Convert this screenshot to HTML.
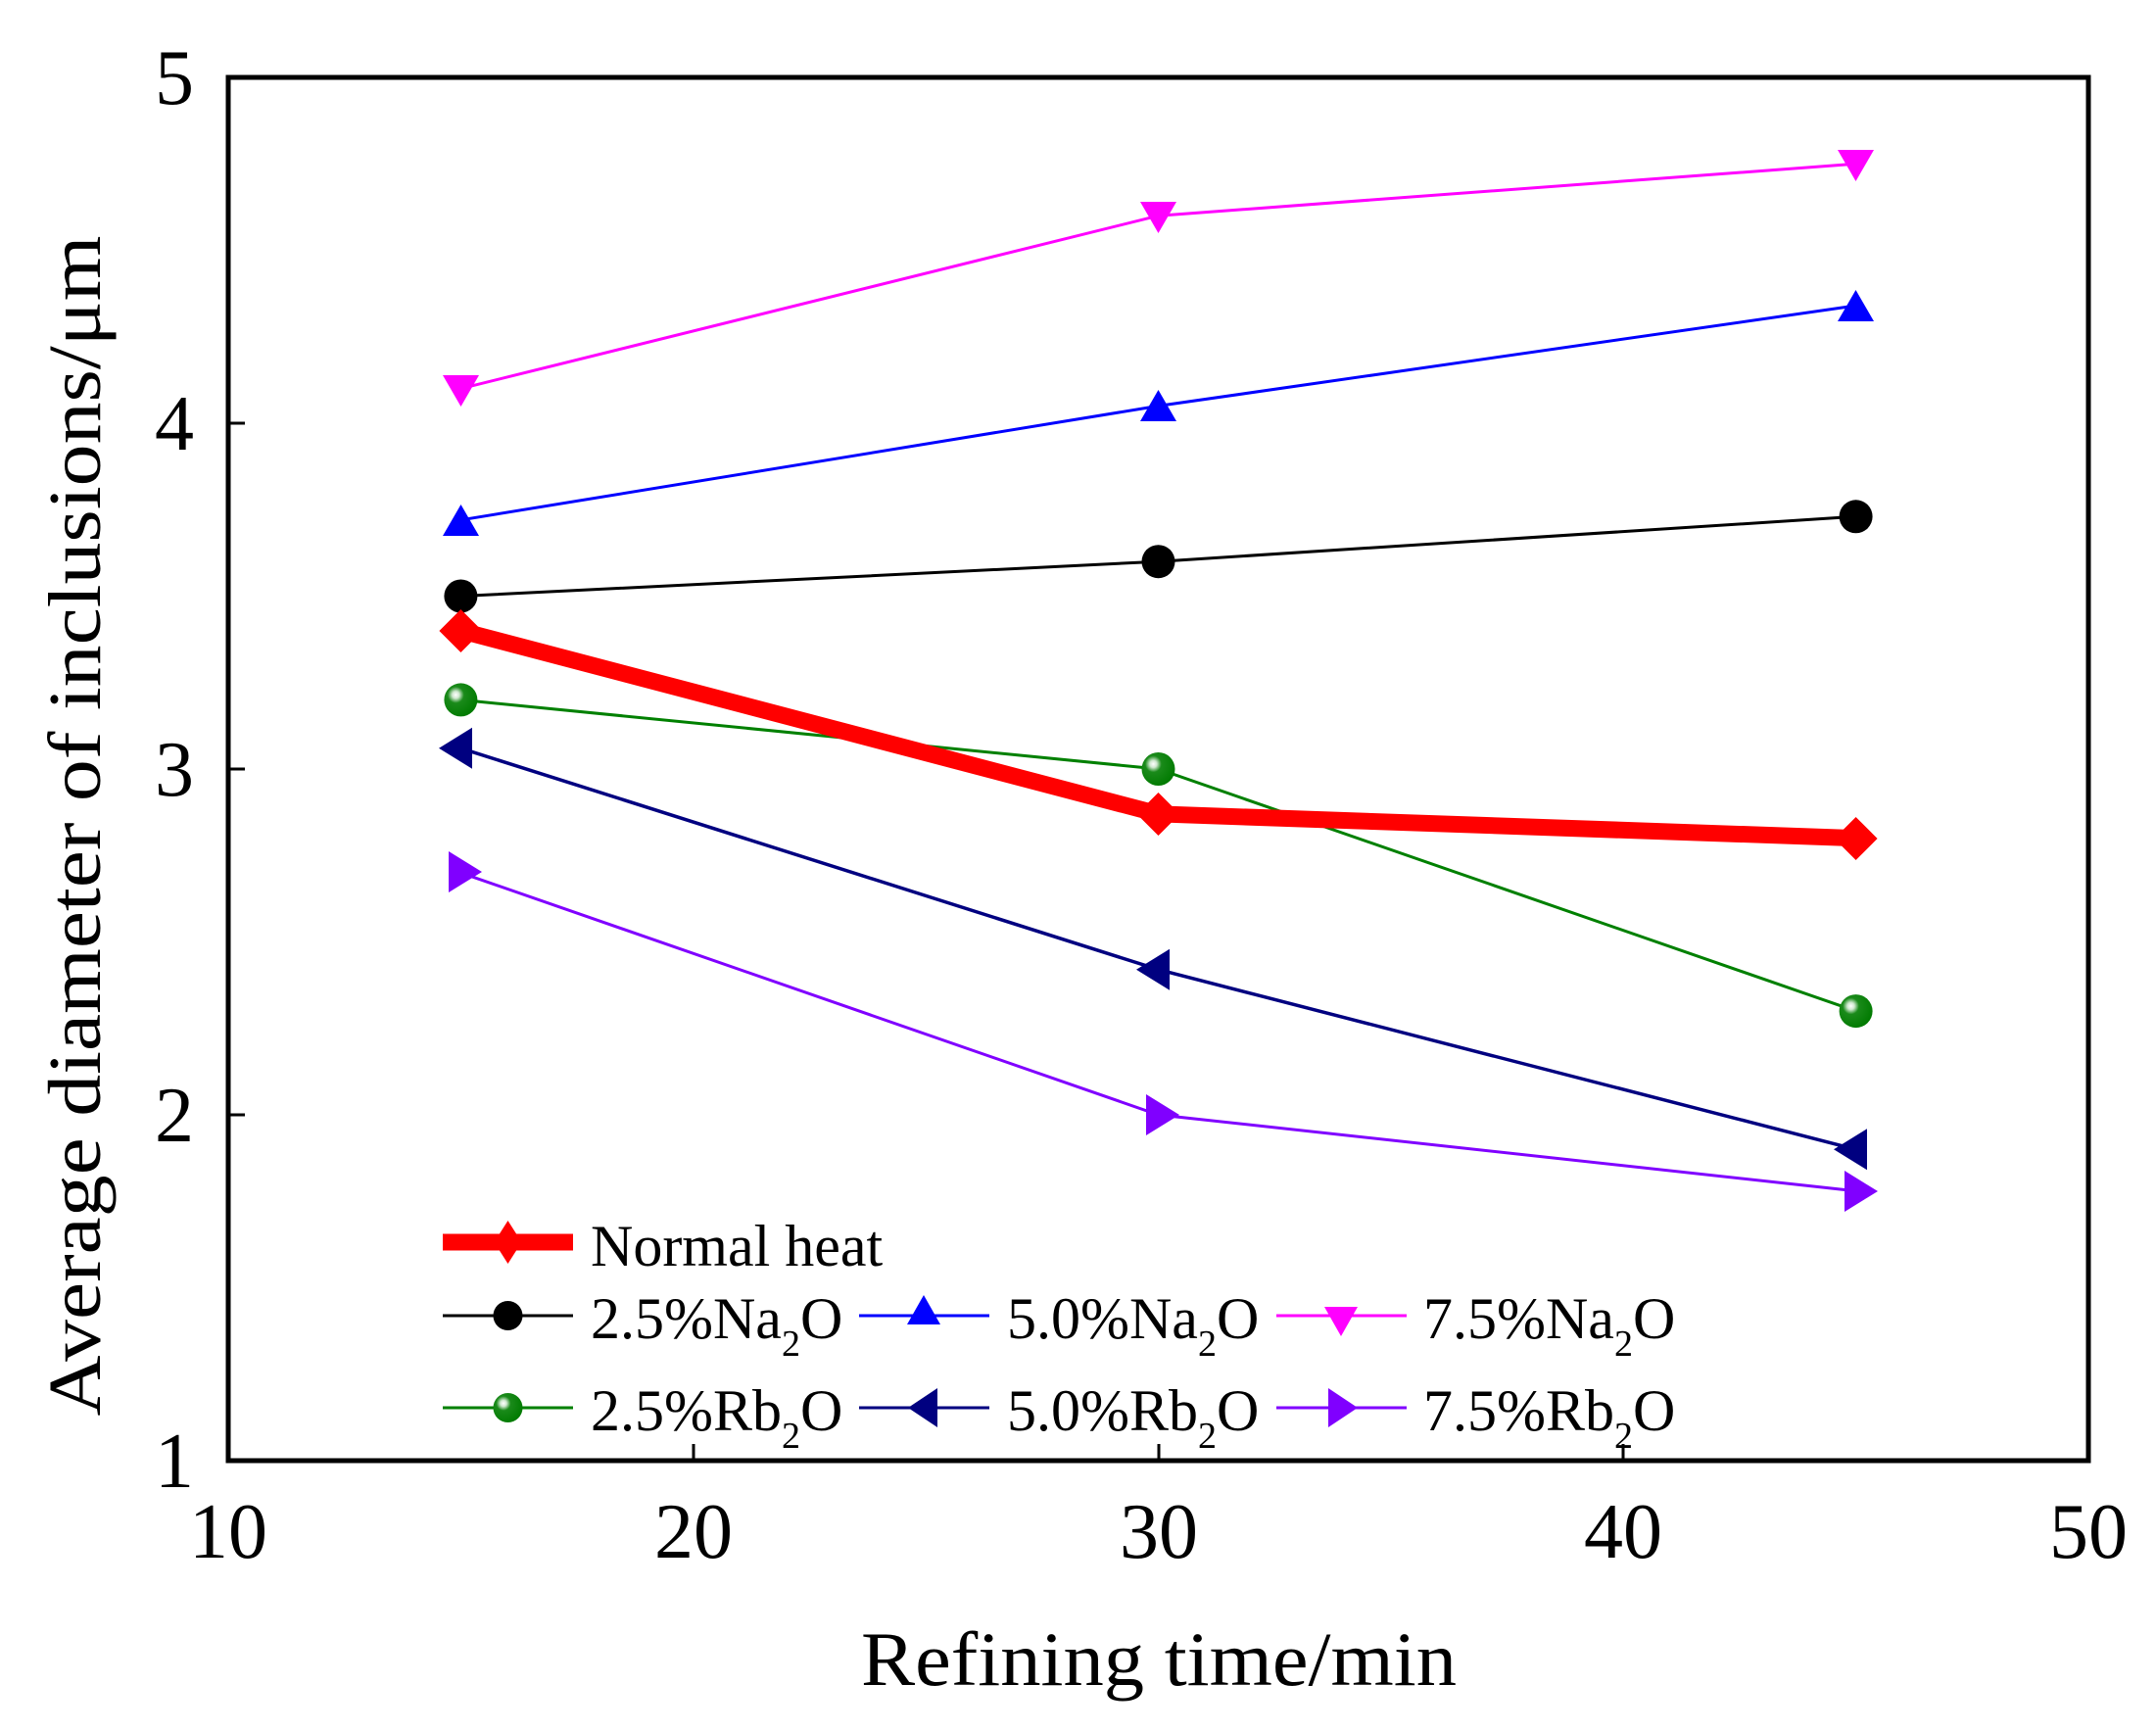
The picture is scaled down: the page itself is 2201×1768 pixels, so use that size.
<!DOCTYPE html>
<html><head><meta charset="utf-8"><style>html,body{margin:0;padding:0;background:#fff}svg{display:block}</style></head>
<body>
<svg width="2201" height="1768" viewBox="0 0 2201 1768" xmlns="http://www.w3.org/2000/svg" font-family="Liberation Serif, serif">
<defs>
<radialGradient id="g" cx="0.35" cy="0.35" r="0.7">
<stop offset="0" stop-color="#fff"/><stop offset="0.15" stop-color="#cfe8cf"/><stop offset="0.35" stop-color="#1a8a1a"/><stop offset="1" stop-color="#007a00"/>
</radialGradient>
</defs>
<rect x="233" y="79" width="1899" height="1412" fill="none" stroke="#000" stroke-width="5"/>
<g stroke="#000" stroke-width="3">
<line x1="708" y1="1491" x2="708" y2="1474"/><line x1="1183" y1="1491" x2="1183" y2="1474"/><line x1="1657" y1="1491" x2="1657" y2="1474"/>
<line x1="233" y1="1138" x2="250" y2="1138"/><line x1="233" y1="785" x2="250" y2="785"/><line x1="233" y1="432" x2="250" y2="432"/>
</g>
<g font-size="80" text-anchor="middle" fill="#000">
<text x="233" y="1590">10</text><text x="708" y="1590">20</text><text x="1183" y="1590">30</text><text x="1657" y="1590">40</text><text x="2132" y="1590">50</text>
</g>
<g font-size="80" text-anchor="end" fill="#000">
<text x="198" y="1518">1</text><text x="198" y="1165">2</text><text x="198" y="812">3</text><text x="198" y="459">4</text><text x="198" y="106">5</text>
</g>
<text x="1183" y="1720" font-size="78" text-anchor="middle" textLength="608" lengthAdjust="spacingAndGlyphs">Refining time/min</text>
<text transform="translate(102,843) rotate(-90)" font-size="76" text-anchor="middle" textLength="1205" lengthAdjust="spacingAndGlyphs">Average diameter of inclusions/μm</text>

<polyline points="470.4,396.7 1182.5,220.2 1894.6,167.3" fill="none" stroke="#f0f" stroke-width="3"/>
<polyline points="470.4,530.8 1182.5,414.4 1894.6,312" fill="none" stroke="#00f" stroke-width="3"/>
<polyline points="470.4,608.5 1182.5,573.2 1894.6,527.3" fill="none" stroke="#000" stroke-width="3"/>
<polyline points="470.4,714.4 1182.5,785 1894.6,1032.1" fill="none" stroke="#008000" stroke-width="3"/>
<polyline points="470.4,763.8 1182.5,989.7 1894.6,1173.3" fill="none" stroke="#000080" stroke-width="3.5"/>
<polyline points="470.4,890.9 1182.5,1138 1894.6,1215.7" fill="none" stroke="#8000ff" stroke-width="3"/>
<polyline points="470.4,643.8 1182.5,830.9 1894.6,855.6" fill="none" stroke="#f00" stroke-width="17" stroke-linejoin="round"/>

<g fill="#f0f"><path d="M452,383 h37 l-18.5,32z"/><path d="M1164,206 h37 l-18.5,32z"/><path d="M1876,153 h37 l-18.5,32z"/></g>
<g fill="#00f"><path d="M452,547 h37 l-18.5,-32z"/><path d="M1164,430 h37 l-18.5,-32z"/><path d="M1876,328 h37 l-18.5,-32z"/></g>
<g fill="#000"><circle cx="470.4" cy="608.5" r="17"/><circle cx="1182.5" cy="573.2" r="17"/><circle cx="1894.6" cy="527.3" r="17"/></g>
<g fill="url(#g)"><circle cx="470.4" cy="714.4" r="17"/><circle cx="1182.5" cy="785" r="17"/><circle cx="1894.6" cy="1032.1" r="17"/></g>
<g fill="#000080"><path d="M448,763.8 l34,-21 v42z"/><path d="M1160,989.7 l34,-21 v42z"/><path d="M1872,1173.3 l34,-21 v42z"/></g>
<g fill="#8000ff"><path d="M458,869 l34,21 l-34,21z"/><path d="M1170,1117 l34,21 l-34,21z"/><path d="M1883,1195 l34,21 l-34,21z"/></g>
<g fill="#f00"><path d="M470.4,622 l22,22 l-22,22 l-22,-22z"/><path d="M1182.5,809 l22,22 l-22,22 l-22,-22z"/><path d="M1894.6,834 l22,22 l-22,22 l-22,-22z"/></g>

<line x1="452" y1="1268" x2="585" y2="1268" stroke="#f00" stroke-width="17"/>
<path d="M518.5,1246 l14,22 l-14,22 l-14,-22z" fill="#f00"/>
<text x="603" y="1292" font-size="60">Normal heat</text>

<line x1="452" y1="1343" x2="585" y2="1343" stroke="#000" stroke-width="3"/><circle cx="518.5" cy="1343" r="15" fill="#000"/>
<line x1="877" y1="1343" x2="1010" y2="1343" stroke="#00f" stroke-width="3"/><path d="M926,1352 h34 l-17,-30z" fill="#00f"/>
<line x1="1303" y1="1343" x2="1436" y2="1343" stroke="#f0f" stroke-width="3"/><path d="M1352,1334 h34 l-17,30z" fill="#f0f"/>
<line x1="452" y1="1437" x2="585" y2="1437" stroke="#008000" stroke-width="3"/><circle cx="518.5" cy="1437" r="15" fill="url(#g)"/>
<line x1="877" y1="1437" x2="1010" y2="1437" stroke="#000080" stroke-width="3"/><path d="M927,1437 l30,-20 v40z" fill="#000080"/>
<line x1="1303" y1="1437" x2="1436" y2="1437" stroke="#8000ff" stroke-width="3"/><path d="M1356,1417 l30,20 l-30,20z" fill="#8000ff"/>
<g font-size="60" fill="#000">
<text x="603" y="1366">2.5%Na<tspan font-size="38" dy="18">2</tspan><tspan dy="-18">O</tspan></text>
<text x="1028" y="1366">5.0%Na<tspan font-size="38" dy="18">2</tspan><tspan dy="-18">O</tspan></text>
<text x="1453" y="1366">7.5%Na<tspan font-size="38" dy="18">2</tspan><tspan dy="-18">O</tspan></text>
<text x="603" y="1460">2.5%Rb<tspan font-size="38" dy="18">2</tspan><tspan dy="-18">O</tspan></text>
<text x="1028" y="1460">5.0%Rb<tspan font-size="38" dy="18">2</tspan><tspan dy="-18">O</tspan></text>
<text x="1453" y="1460">7.5%Rb<tspan font-size="38" dy="18">2</tspan><tspan dy="-18">O</tspan></text>
</g>
</svg>
</body></html>
